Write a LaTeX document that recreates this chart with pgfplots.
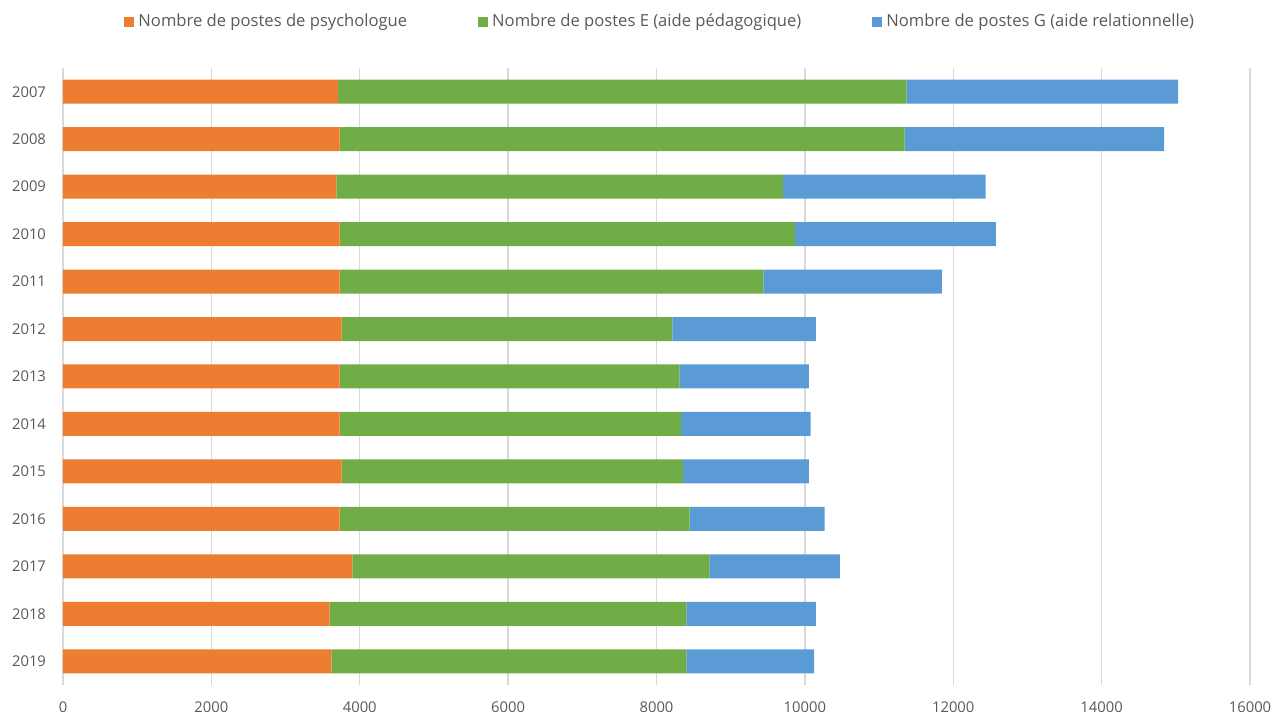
\documentclass[border=0pt]{standalone}
\usepackage{pgfplots}
\pgfplotsset{compat=1.18}
\usepackage{pgfplotstable}
\usepackage{fontspec}
\setmainfont{Open Sans}

\definecolor{psyorange}{HTML}{ED7D31}
\definecolor{egreen}{HTML}{70AD47}
\definecolor{gblue}{HTML}{5B9BD5}
\definecolor{gridgray}{HTML}{D9D9D9}
\definecolor{txtgray}{HTML}{595959}

% year, psychologues, postes E, postes G
\pgfplotstableread{
idx year psy E G
0 2007 3705 7668 3657
1 2008 3728 7618 3495
2 2009 3684 6020 2732
3 2010 3728 6137 2710
4 2011 3728 5711 2409
5 2012 3755 4459 1934
6 2013 3728 4580 1746
7 2014 3728 4603 1746
8 2015 3755 4603 1696
9 2016 3728 4720 1817
10 2017 3899 4813 1759
11 2018 3593 4810 1745
12 2019 3616 4787 1722
}\postes

\begin{document}
\begin{tikzpicture}
\useasboundingbox (-31.5pt,-15pt) rectangle (605.5pt,342.5pt);
\begin{axis}[
  at={(0,0)}, anchor=south west,
  scale only axis,
  width=593.5pt, height=308.5pt,
  xbar stacked,
  bar width=12pt,
  y dir=reverse,
  xmin=0, xmax=16000,
  ymin=-0.5, ymax=12.5,
  xtick={0,2000,...,16000},
  ytick={0,...,12},
  yticklabels={2007,2008,2009,2010,2011,2012,2013,2014,2015,2016,2017,2018,2019},
  scaled x ticks=false,
  /pgf/number format/assume math mode=true,
  /pgf/number format/set thousands separator={},
  major tick length=0pt,
  axis line style={draw=none},
  xmajorgrids,
  major grid style={gridgray, line width=0.7pt},
  tick label style={font=\fontsize{7.4}{9}\selectfont, text=txtgray},
  xticklabel style={yshift=-5pt},
  yticklabel style={xshift=-5pt},
  legend style={draw=none, fill=none, at={(0.504,1.0746)}, anchor=center,
    font=\fontsize{8.3}{10}\selectfont, text=txtgray,
    /tikz/every even column/.append style={column sep=33.5pt}},
  legend columns=3,
  legend image code/.code={\fill[#1] (0pt,-2.5pt) rectangle (5pt,2.5pt);},
  clip=false,
]
\addplot[fill=psyorange, draw=none] table[x=psy, y=idx]{\postes};
\addplot[fill=egreen, draw=none] table[x=E, y=idx]{\postes};
\addplot[fill=gblue, draw=none] table[x=G, y=idx]{\postes};
\legend{Nombre de postes de psychologue, Nombre de postes E (aide pédagogique), Nombre de postes G (aide relationnelle)}
\end{axis}
\end{tikzpicture}
\end{document}
